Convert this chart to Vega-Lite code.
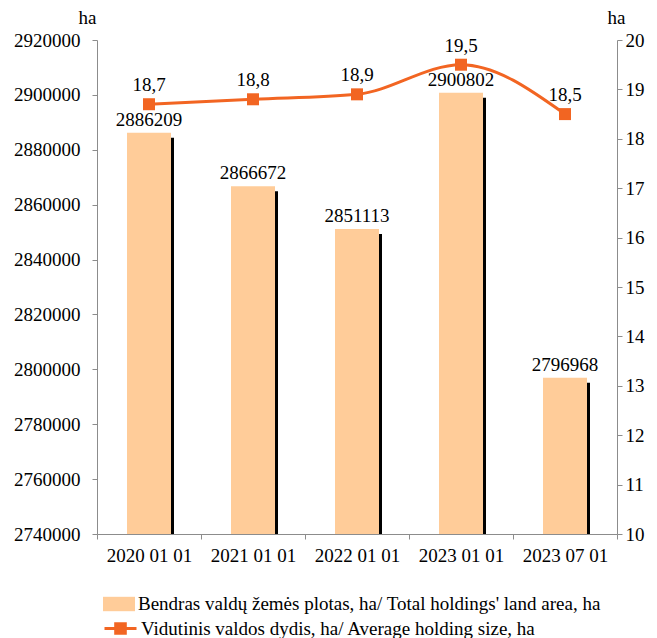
{
  "$schema": "https://vega.github.io/schema/vega-lite/v6.json",
  "autosize": {"type": "none"},
  "padding": {"left": 97, "top": 40, "right": 40, "bottom": 104},
  "width": 520,
  "height": 494,
  "config": {
    "font": "Liberation Serif",
    "view": {"stroke": null},
    "text": {"font": "Liberation Serif"},
    "axis": {
      "domainColor": "#8c8c8c",
      "tickColor": "#8c8c8c",
      "tickSize": 5,
      "grid": false,
      "labelFont": "Liberation Serif",
      "labelFontSize": 19,
      "labelColor": "#000000",
      "titleFont": "Liberation Serif",
      "titleFontSize": 19,
      "titleFontWeight": "normal",
      "titleColor": "#000000"
    },
    "legend": {
      "labelFont": "Liberation Serif",
      "labelFontSize": 19,
      "labelColor": "#000000",
      "labelLimit": 0,
      "padding": 0,
      "offset": 0
    }
  },
  "data": {
    "values": [
      {"date": "2020 01 01", "area": 2886209, "avg": 18.7, "avgLabel": "18,7"},
      {"date": "2021 01 01", "area": 2866672, "avg": 18.8, "avgLabel": "18,8"},
      {"date": "2022 01 01", "area": 2851113, "avg": 18.9, "avgLabel": "18,9"},
      {"date": "2023 01 01", "area": 2900802, "avg": 19.5, "avgLabel": "19,5"},
      {"date": "2023 07 01", "area": 2796968, "avg": 18.5, "avgLabel": "18,5"}
    ]
  },
  "encoding": {
    "x": {
      "field": "date",
      "type": "nominal",
      "sort": null,
      "scale": {"paddingInner": 0, "paddingOuter": 0},
      "axis": {"title": null, "labelAngle": 0, "tickBand": "extent", "labelPadding": 7}
    }
  },
  "layer": [
    {
      "encoding": {
        "y": {
          "field": "area",
          "type": "quantitative",
          "scale": {"domain": [2740000, 2920000], "zero": false, "nice": false},
          "axis": {
            "values": [2740000, 2760000, 2780000, 2800000, 2820000, 2840000, 2860000, 2880000, 2900000, 2920000],
            "format": "d",
            "labelPadding": 12,
            "title": "ha",
            "titleAngle": 0,
            "titleX": -10,
            "titleY": -23,
            "titleAlign": "center",
            "titleBaseline": "middle"
          }
        }
      },
      "layer": [
        {
          "mark": {"type": "bar", "width": 44, "xOffset": 3, "yOffset": 5, "color": "#000000"},
          "encoding": {"y2": {"datum": 2740000}}
        },
        {
          "mark": {"type": "bar", "width": 44},
          "encoding": {
            "y2": {"datum": 2740000},
            "fill": {
              "datum": "Bendras valdų žemės plotas, ha/ Total holdings' land area, ha",
              "type": "nominal",
              "scale": {"range": ["#FFCC99"]},
              "legend": {
                "title": null,
                "orient": "none",
                "legendX": 6,
                "legendY": 548,
                "symbolType": "M-1,-0.45H1V0.45H-1Z",
                "symbolSize": 1024,
                "symbolStrokeWidth": 0,
                "labelOffset": 3
              }
            }
          }
        },
        {
          "mark": {"type": "text", "baseline": "alphabetic", "dy": -7, "fontSize": 19, "color": "#000000"},
          "encoding": {"text": {"field": "area", "type": "quantitative", "format": "d"}}
        }
      ]
    },
    {
      "encoding": {
        "y": {
          "field": "avg",
          "type": "quantitative",
          "scale": {"domain": [10, 20], "zero": false, "nice": false},
          "axis": {
            "orient": "right",
            "values": [10, 11, 12, 13, 14, 15, 16, 17, 18, 19, 20],
            "labelPadding": 3,
            "title": "ha",
            "titleAngle": 0,
            "titleX": -1,
            "titleY": -23,
            "titleAlign": "center",
            "titleBaseline": "middle"
          }
        }
      },
      "layer": [
        {
          "mark": {"type": "line", "interpolate": "monotone", "strokeWidth": 3},
          "encoding": {
            "stroke": {
              "datum": "Vidutinis valdos dydis, ha/ Average holding size, ha",
              "type": "nominal",
              "scale": {"range": ["#F26522"]},
              "legend": {
                "title": null,
                "orient": "none",
                "legendX": 6,
                "legendY": 571,
                "symbolType": "M-1,0H1M-0.3,-0.3H0.3V0.3H-0.3Z",
                "symbolSize": 1024,
                "symbolStrokeWidth": 3,
                "symbolFillColor": "#F26522",
                "labelOffset": 3
              }
            }
          }
        },
        {
          "mark": {"type": "square", "size": 144, "color": "#F26522", "opacity": 1, "filled": true}
        },
        {
          "mark": {"type": "text", "baseline": "alphabetic", "dy": -13, "fontSize": 19, "color": "#000000"},
          "encoding": {"text": {"field": "avgLabel", "type": "nominal"}}
        }
      ]
    }
  ],
  "resolve": {"scale": {"y": "independent"}}
}
